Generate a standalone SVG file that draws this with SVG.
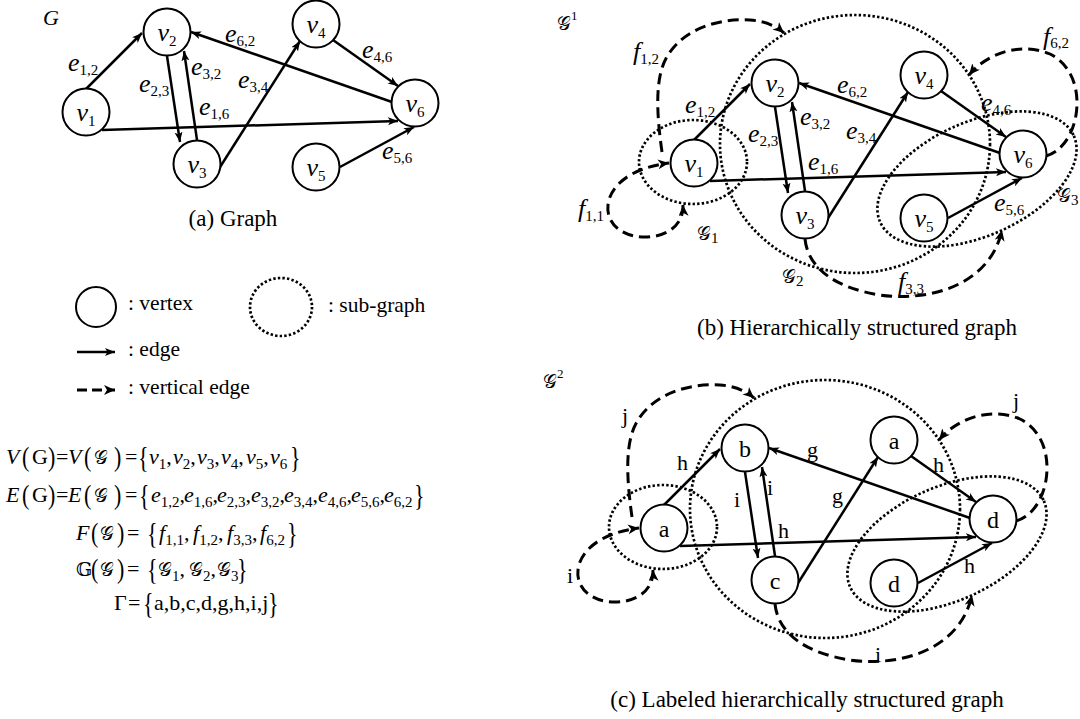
<svg xmlns="http://www.w3.org/2000/svg" width="1080" height="719" viewBox="0 0 1080 719">
<defs>
<style>
text{font-family:"Liberation Serif","Times New Roman",serif;fill:#000}
.nd{fill:#fff;stroke:#000;stroke-width:2}
.ed{fill:none;stroke:#000;stroke-width:2.5;marker-end:url(#ah)}
.vd{fill:none;stroke:#000;stroke-width:3;stroke-dasharray:11 6;marker-end:url(#dh)}
.vd2{fill:none;stroke:#000;stroke-width:3;stroke-dasharray:11 6;marker-start:url(#dh);marker-end:url(#dh)}
.sg{fill:none;stroke:#000;stroke-width:2.7;stroke-dasharray:2.4 2.2}
.lb{font-size:26px;font-style:italic}
.sub{font-size:15px;font-style:normal}
.sup{font-size:13px;font-style:normal}
.cap{font-size:23px;text-anchor:middle}
.lg{font-size:21.5px}
.fm{font-size:22px}
.it{font-style:italic}
.lt{font-size:22px}
.nl{font-size:24px;text-anchor:middle}
.scr{font-family:"DejaVu Serif","DejaVu Sans","Noto Sans",serif;font-size:19px}
</style>
<marker id="ah" markerUnits="userSpaceOnUse" markerWidth="12" markerHeight="10" refX="10" refY="4" orient="auto"><path d="M0,0 L10,4 L0,8 L2.5,4 z" fill="#000"/></marker>
<marker id="dh" markerUnits="userSpaceOnUse" markerWidth="14" markerHeight="12" refX="11" refY="5" orient="auto-start-reverse"><path d="M0,0 L11,5 L0,10 L3,5 z" fill="#000"/></marker>
</defs>
<rect width="1080" height="719" fill="#fff"/>

<!-- Panel (a) -->
<g id="panel-a">
<text class="lb" x="43" y="25" style="font-size:22px">G</text>
<g id="a-edges">
<path class="ed" d="M86,89 L142,33"/>
<path class="ed" d="M167,56 L180,142"/>
<path class="ed" d="M197,140 L184,51"/>
<path class="ed" d="M102,130 L398,121"/>
<path class="ed" d="M215,175 L300,41"/>
<path class="ed" d="M392,102 L191,32"/>
<path class="ed" d="M333,40 L398,86"/>
<path class="ed" d="M340,167 L414,127"/>
</g>
<g id="a-v1"><circle class="nd" cx="86" cy="112" r="23.5"/><text class="lb" x="86" y="121" text-anchor="middle">v<tspan class="sub" dy="5">1</tspan></text></g>
<g id="a-v2"><circle class="nd" cx="167" cy="32" r="23.5"/><text class="lb" x="167" y="41" text-anchor="middle">v<tspan class="sub" dy="5">2</tspan></text></g>
<g id="a-v3"><circle class="nd" cx="197" cy="164" r="23.5"/><text class="lb" x="197" y="173" text-anchor="middle">v<tspan class="sub" dy="5">3</tspan></text></g>
<g id="a-v4"><circle class="nd" cx="316" cy="24" r="23.5"/><text class="lb" x="316" y="33" text-anchor="middle">v<tspan class="sub" dy="5">4</tspan></text></g>
<g id="a-v5"><circle class="nd" cx="316" cy="167" r="23.5"/><text class="lb" x="316" y="176" text-anchor="middle">v<tspan class="sub" dy="5">5</tspan></text></g>
<g id="a-v6"><circle class="nd" cx="415" cy="103" r="23.5"/><text class="lb" x="415" y="112" text-anchor="middle">v<tspan class="sub" dy="5">6</tspan></text></g>
<g id="a-labels">
<text class="lb" x="68" y="71">e<tspan class="sub" dy="4">1,2</tspan></text>
<text class="lb" x="139" y="92">e<tspan class="sub" dy="4">2,3</tspan></text>
<text class="lb" x="191" y="75">e<tspan class="sub" dy="4">3,2</tspan></text>
<text class="lb" x="199" y="115">e<tspan class="sub" dy="4">1,6</tspan></text>
<text class="lb" x="238" y="88">e<tspan class="sub" dy="4">3,4</tspan></text>
<text class="lb" x="225" y="42">e<tspan class="sub" dy="4">6,2</tspan></text>
<text class="lb" x="362" y="58">e<tspan class="sub" dy="4">4,6</tspan></text>
<text class="lb" x="382" y="159">e<tspan class="sub" dy="4">5,6</tspan></text>
</g>
<text class="cap" x="233" y="226">(a) Graph</text>
</g>

<!-- Legend -->
<g id="legend">
<circle class="nd" cx="96" cy="307" r="20"/>
<text class="lg" x="128" y="310">: vertex</text>
<ellipse class="sg" cx="281" cy="307" rx="31" ry="29"/>
<text class="lg" x="328" y="312">: sub-graph</text>
<line class="ed" x1="77" y1="352" x2="115" y2="352"/>
<text class="lg" x="128" y="356">: edge</text>
<line x1="77" y1="390" x2="115" y2="390" stroke="#000" stroke-width="3" stroke-dasharray="10 5" marker-end="url(#dh)"/>
<text class="lg" x="128" y="394">: vertical edge</text>
</g>

<!-- Formulas -->
<g id="formulas" class="fm">
<text class="fm" y="464"><tspan x="6" class="it">V</tspan><tspan x="32">G</tspan><tspan x="56">=</tspan><tspan x="68" class="it">V</tspan><tspan x="94" class="scr">𝒢</tspan><tspan x="125">=</tspan><tspan x="149" class="it">v</tspan><tspan class="sub" dy="5">1</tspan><tspan dy="-5">,</tspan><tspan x="173" class="it">v</tspan><tspan class="sub" dy="5">2</tspan><tspan dy="-5">,</tspan><tspan x="197" class="it">v</tspan><tspan class="sub" dy="5">3</tspan><tspan dy="-5">,</tspan><tspan x="221" class="it">v</tspan><tspan class="sub" dy="5">4</tspan><tspan dy="-5">,</tspan><tspan x="246" class="it">v</tspan><tspan class="sub" dy="5">5</tspan><tspan dy="-5">,</tspan><tspan x="270" class="it">v</tspan><tspan class="sub" dy="5">6</tspan></text>
<text class="fm" transform="translate(22,466) scale(1,1.25)">(</text>
<text class="fm" transform="translate(48,466) scale(1,1.25)">)</text>
<text class="fm" transform="translate(84,466) scale(1,1.25)">(</text>
<text class="fm" transform="translate(114,466) scale(1,1.25)">)</text>
<text class="fm" transform="translate(138,467) scale(1,1.35)">{</text>
<text class="fm" transform="translate(290,467) scale(1,1.35)">}</text>

<text class="fm" y="502"><tspan x="6" class="it">E</tspan><tspan x="32">G</tspan><tspan x="56">=</tspan><tspan x="68" class="it">E</tspan><tspan x="94" class="scr">𝒢</tspan><tspan x="125">=</tspan><tspan x="151" class="it">e</tspan><tspan class="sub" dy="5">1,2</tspan><tspan dy="-5">,</tspan><tspan x="184" class="it">e</tspan><tspan class="sub" dy="5">1,6</tspan><tspan dy="-5">,</tspan><tspan x="217" class="it">e</tspan><tspan class="sub" dy="5">2,3</tspan><tspan dy="-5">,</tspan><tspan x="251" class="it">e</tspan><tspan class="sub" dy="5">3,2</tspan><tspan dy="-5">,</tspan><tspan x="284" class="it">e</tspan><tspan class="sub" dy="5">3,4</tspan><tspan dy="-5">,</tspan><tspan x="318" class="it">e</tspan><tspan class="sub" dy="5">4,6</tspan><tspan dy="-5">,</tspan><tspan x="351" class="it">e</tspan><tspan class="sub" dy="5">5,6</tspan><tspan dy="-5">,</tspan><tspan x="384" class="it">e</tspan><tspan class="sub" dy="5">6,2</tspan></text>
<text class="fm" transform="translate(22,504) scale(1,1.25)">(</text>
<text class="fm" transform="translate(48,504) scale(1,1.25)">)</text>
<text class="fm" transform="translate(84,504) scale(1,1.25)">(</text>
<text class="fm" transform="translate(114,504) scale(1,1.25)">)</text>
<text class="fm" transform="translate(139,505) scale(1,1.35)">{</text>
<text class="fm" transform="translate(414,505) scale(1,1.35)">}</text>

<text class="fm" y="540"><tspan x="76" class="it">F</tspan><tspan x="100" class="scr">𝒢</tspan><tspan x="127">=</tspan><tspan x="159" class="it">f</tspan><tspan class="sub" dy="5">1,1</tspan><tspan dy="-5">,</tspan><tspan x="193" class="it">f</tspan><tspan class="sub" dy="5">1,2</tspan><tspan dy="-5">,</tspan><tspan x="227" class="it">f</tspan><tspan class="sub" dy="5">3,3</tspan><tspan dy="-5">,</tspan><tspan x="260" class="it">f</tspan><tspan class="sub" dy="5">6,2</tspan></text>
<text class="fm" transform="translate(91,542) scale(1,1.25)">(</text>
<text class="fm" transform="translate(117,542) scale(1,1.25)">)</text>
<text class="fm" transform="translate(147,543) scale(1,1.35)">{</text>
<text class="fm" transform="translate(287,543) scale(1,1.35)">}</text>

<text class="fm" y="576"><tspan x="76" class="scr">𝔾</tspan><tspan x="100" class="scr">𝒢</tspan><tspan x="127">=</tspan><tspan x="158" class="scr">𝒢</tspan><tspan class="sub" dy="5">1</tspan><tspan dy="-5">,</tspan><tspan x="189" class="scr">𝒢</tspan><tspan class="sub" dy="5">2</tspan><tspan dy="-5">,</tspan><tspan x="217" class="scr">𝒢</tspan><tspan class="sub" dy="5">3</tspan></text>
<text class="fm" transform="translate(91,578) scale(1,1.25)">(</text>
<text class="fm" transform="translate(117,578) scale(1,1.25)">)</text>
<text class="fm" transform="translate(147,579) scale(1,1.35)">{</text>
<text class="fm" transform="translate(237,579) scale(1,1.35)">}</text>

<text class="fm" y="610"><tspan x="114">Γ</tspan><tspan x="128">=</tspan><tspan x="154">a,b,c,d,g,h,i,j</tspan></text>
<text class="fm" transform="translate(143,613) scale(1,1.35)">{</text>
<text class="fm" transform="translate(268,613) scale(1,1.35)">}</text>
</g>

<!-- Panel (b) -->
<g id="panel-b">
<text x="557" y="30"><tspan class="scr">𝒢</tspan><tspan class="sup" dy="-10">1</tspan></text>
<g id="b-subgraphs">
<ellipse class="sg" cx="693" cy="162" rx="54" ry="42"/>
<ellipse class="sg" cx="855" cy="144" rx="135" ry="129"/>
<ellipse class="sg" cx="977" cy="179" rx="106" ry="57" transform="rotate(-24 977 179)"/>
</g>
<g id="b-vertical-edges">
<path class="vd" d="M662,152 C656,110 655,75 668,55 C685,28 720,18 750,20 C765,21 776,26 784,33"/>
<path class="vd2" d="M683,205 C684,224 668,237 645,237 C620,237 606,222 608,205 C610,186 630,168 669,163"/>
<path class="vd" d="M1046,156 C1060,152 1072,138 1076,115 C1080,90 1072,65 1050,54 C1025,43 990,50 969,75"/>
<path class="vd" d="M805,239 C808,268 835,288 880,295 C930,302 990,285 1002,230"/>
</g>
<g transform="translate(608,51)">
<g id="b-edges">
<path class="ed" d="M86,89 L142,33"/>
<path class="ed" d="M167,56 L180,142"/>
<path class="ed" d="M197,140 L184,51"/>
<path class="ed" d="M102,130 L398,121"/>
<path class="ed" d="M215,175 L300,41"/>
<path class="ed" d="M392,102 L191,32"/>
<path class="ed" d="M333,40 L398,86"/>
<path class="ed" d="M340,167 L414,127"/>
</g>
<g id="b-v1"><circle class="nd" cx="86" cy="112" r="23.5"/><text class="lb" x="86" y="121" text-anchor="middle">v<tspan class="sub" dy="5">1</tspan></text></g>
<g id="b-v2"><circle class="nd" cx="167" cy="32" r="23.5"/><text class="lb" x="167" y="41" text-anchor="middle">v<tspan class="sub" dy="5">2</tspan></text></g>
<g id="b-v3"><circle class="nd" cx="197" cy="164" r="23.5"/><text class="lb" x="197" y="173" text-anchor="middle">v<tspan class="sub" dy="5">3</tspan></text></g>
<g id="b-v4"><circle class="nd" cx="316" cy="24" r="23.5"/><text class="lb" x="316" y="33" text-anchor="middle">v<tspan class="sub" dy="5">4</tspan></text></g>
<g id="b-v5"><circle class="nd" cx="316" cy="167" r="23.5"/><text class="lb" x="316" y="176" text-anchor="middle">v<tspan class="sub" dy="5">5</tspan></text></g>
<g id="b-v6"><circle class="nd" cx="415" cy="103" r="23.5"/><text class="lb" x="415" y="112" text-anchor="middle">v<tspan class="sub" dy="5">6</tspan></text></g>
</g>
<g id="b-labels">
<text class="lb" x="685" y="113">e<tspan class="sub" dy="4">1,2</tspan></text>
<text class="lb" x="748" y="142">e<tspan class="sub" dy="4">2,3</tspan></text>
<text class="lb" x="800" y="125">e<tspan class="sub" dy="4">3,2</tspan></text>
<text class="lb" x="808" y="170">e<tspan class="sub" dy="4">1,6</tspan></text>
<text class="lb" x="846" y="139">e<tspan class="sub" dy="4">3,4</tspan></text>
<text class="lb" x="837" y="93">e<tspan class="sub" dy="4">6,2</tspan></text>
<text class="lb" x="981" y="111">e<tspan class="sub" dy="4">4,6</tspan></text>
<text class="lb" x="994" y="211">e<tspan class="sub" dy="4">5,6</tspan></text>
<text class="lb" x="633" y="60">f<tspan class="sub" dy="4">1,2</tspan></text>
<text class="lb" x="578" y="217">f<tspan class="sub" dy="4">1,1</tspan></text>
<text class="lb" x="1043" y="45">f<tspan class="sub" dy="3">6,2</tspan></text>
<text class="lb" x="898" y="290">f<tspan class="sub" dy="4">3,3</tspan></text>
<text x="697" y="240"><tspan class="scr">𝒢</tspan><tspan class="sub" dy="3">1</tspan></text>
<text x="782" y="283"><tspan class="scr">𝒢</tspan><tspan class="sub" dy="3">2</tspan></text>
<text x="1057" y="202"><tspan class="scr">𝒢</tspan><tspan class="sub" dy="3">3</tspan></text>
</g>
<text class="cap" x="857" y="335">(b) Hierarchically structured graph</text>
</g>

<!-- Panel (c) -->
<g id="panel-c">
<text x="543" y="388"><tspan class="scr">𝒢</tspan><tspan class="sup" dy="-10">2</tspan></text>
<g transform="translate(-30,365)">
<g id="c-subgraphs">
<ellipse class="sg" cx="693" cy="162" rx="54" ry="42"/>
<ellipse class="sg" cx="855" cy="144" rx="135" ry="129"/>
<ellipse class="sg" cx="977" cy="179" rx="106" ry="57" transform="rotate(-24 977 179)"/>
</g>
<g id="c-vertical-edges">
<path class="vd" d="M662,152 C656,110 655,75 668,55 C685,28 720,18 750,20 C765,21 776,26 784,33"/>
<path class="vd2" d="M683,205 C684,224 668,237 645,237 C620,237 606,222 608,205 C610,186 630,168 669,163"/>
<path class="vd" d="M1046,156 C1060,152 1072,138 1076,115 C1080,90 1072,65 1050,54 C1025,43 990,50 969,75"/>
<path class="vd" d="M805,239 C808,268 835,288 880,295 C930,302 990,285 1002,230"/>
</g>
</g>
<g transform="translate(578,416)">
<g id="c-edges">
<path class="ed" d="M86,89 L142,33"/>
<path class="ed" d="M167,56 L180,142"/>
<path class="ed" d="M197,140 L184,51"/>
<path class="ed" d="M102,130 L398,121"/>
<path class="ed" d="M215,175 L300,41"/>
<path class="ed" d="M392,102 L191,32"/>
<path class="ed" d="M333,40 L398,86"/>
<path class="ed" d="M340,167 L414,127"/>
</g>
<g id="c-v1"><circle class="nd" cx="86" cy="112" r="23.5"/><text class="nl" x="86" y="121">a</text></g>
<g id="c-v2"><circle class="nd" cx="167" cy="32" r="23.5"/><text class="nl" x="167" y="41">b</text></g>
<g id="c-v3"><circle class="nd" cx="197" cy="164" r="23.5"/><text class="nl" x="197" y="173">c</text></g>
<g id="c-v4"><circle class="nd" cx="316" cy="24" r="23.5"/><text class="nl" x="316" y="33">a</text></g>
<g id="c-v5"><circle class="nd" cx="316" cy="167" r="23.5"/><text class="nl" x="316" y="176">d</text></g>
<g id="c-v6"><circle class="nd" cx="415" cy="103" r="23.5"/><text class="nl" x="415" y="112">d</text></g>
</g>
<g id="c-labels">
<text class="lt" x="622" y="423">j</text>
<text class="lt" x="677" y="470">h</text>
<text class="lt" x="734" y="507">i</text>
<text class="lt" x="767" y="495">i</text>
<text class="lt" x="778" y="538">h</text>
<text class="lt" x="807" y="457">g</text>
<text class="lt" x="832" y="503">g</text>
<text class="lt" x="933" y="472">h</text>
<text class="lt" x="964" y="573">h</text>
<text class="lt" x="1013" y="408">j</text>
<text class="lt" x="875" y="662">i</text>
<text class="lt" x="567" y="583">i</text>
</g>
<text class="cap" x="807" y="707">(c) Labeled hierarchically structured graph</text>
</g>
</svg>
